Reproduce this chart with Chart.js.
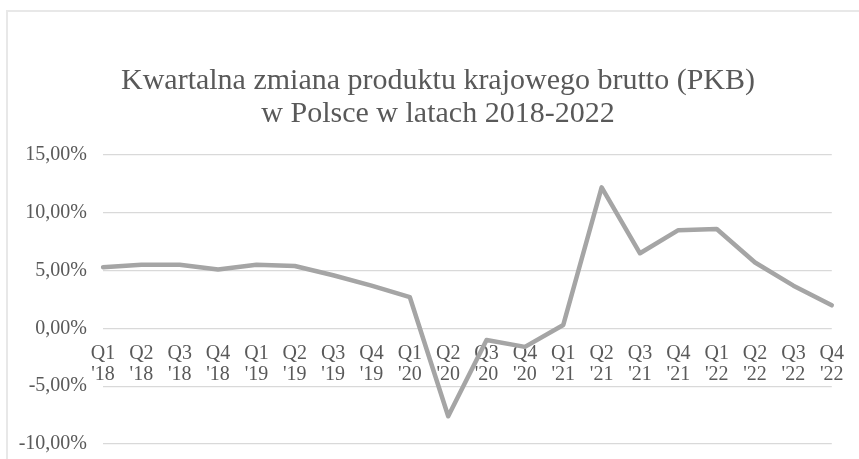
<!DOCTYPE html>
<html>
<head>
<meta charset="utf-8">
<script src="https://cdn.jsdelivr.net/npm/chart.js@4/dist/chart.umd.min.js"></script>
<style>
  html, body { margin: 0; padding: 0; background: #ffffff; }
  #wrap { position: relative; width: 859px; height: 459px; overflow: hidden; }
  #frame { position: absolute; left: 6px; top: 10px; width: 900px; height: 500px; border: 2px solid #e8e8e8; box-sizing: border-box; }
  canvas { position: absolute; left: 0; top: 0; }
</style>
</head>
<body>
<div id="wrap">
  <div id="frame"></div>
  <canvas id="c" width="859" height="472"></canvas>
</div>
<script>
const quarters = ['Q1','Q2','Q3','Q4','Q1','Q2','Q3','Q4','Q1','Q2','Q3','Q4','Q1','Q2','Q3','Q4','Q1','Q2','Q3','Q4'];
const years = ["'18","'18","'18","'18","'19","'19","'19","'19","'20","'20","'20","'20","'21","'21","'21","'21","'22","'22","'22","'22"];
const gdpChange = [5.3, 5.5, 5.5, 5.1, 5.5, 5.4, 4.6, 3.7, 2.7, -7.6, -1.0, -1.6, 0.3, 12.2, 6.5, 8.5, 8.6, 5.7, 3.7, 2.0];
const yTicks = [-10, -5, 0, 5, 10, 15];
const titleLines = ['Kwartalna zmiana produktu krajowego brutto (PKB)', 'w Polsce w latach 2018-2022'];

const labels = quarters.map((q, i) => [q, years[i]]);
const serif = "'Liberation Serif', 'Times New Roman', serif";

// Title drawn as canvas text, centred on the chart frame (which is wider than the picture)
const frameTitle = {
  id: 'frameTitle',
  afterDraw(chart) {
    const ctx = chart.ctx;
    ctx.save();
    ctx.fillStyle = '#595959';
    ctx.font = "30px " + serif;
    ctx.textAlign = 'center';
    ctx.textBaseline = 'alphabetic';
    ctx.fillText(titleLines[0], 438, 89);
    ctx.fillText(titleLines[1], 438, 122);
    ctx.restore();
  }
};

new Chart(document.getElementById('c'), {
  type: 'line',
  data: {
    labels: labels,
    datasets: [{
      data: gdpChange,
      borderColor: '#a5a5a5',
      borderWidth: 4.5,
      pointRadius: 0,
      tension: 0,
      borderJoinStyle: 'round',
      borderCapStyle: 'round',
      fill: false
    }]
  },
  plugins: [frameTitle],
  options: {
    responsive: false,
    animation: false,
    devicePixelRatio: 1,
    layout: { padding: { left: 0, right: 23, top: 155, bottom: 4 } },
    plugins: {
      legend: { display: false },
      tooltip: { enabled: false },
      title: { display: false }
    },
    scales: {
      x: {
        position: { y: 0 },
        grid: { display: false, drawTicks: false },
        border: { display: false },
        ticks: {
          color: '#595959',
          font: { family: serif, size: 20, lineHeight: 1.05 },
          maxRotation: 0,
          autoSkip: false,
          padding: 15
        },
        offset: false
      },
      y: {
        min: -10,
        max: 15,
        afterBuildTicks: (axis) => { axis.ticks = yTicks.map(v => ({ value: v })); },
        afterFit: (axis) => { axis.width = 103; },
        grid: { color: '#d9d9d9', lineWidth: 1.3, drawTicks: false },
        border: { display: false },
        ticks: {
          color: '#595959',
          font: { family: serif, size: 20 },
          padding: 16,
          callback: (v) => v.toFixed(2).replace('.', ',') + '%'
        }
      }
    }
  }
});
</script>
</body>
</html>
